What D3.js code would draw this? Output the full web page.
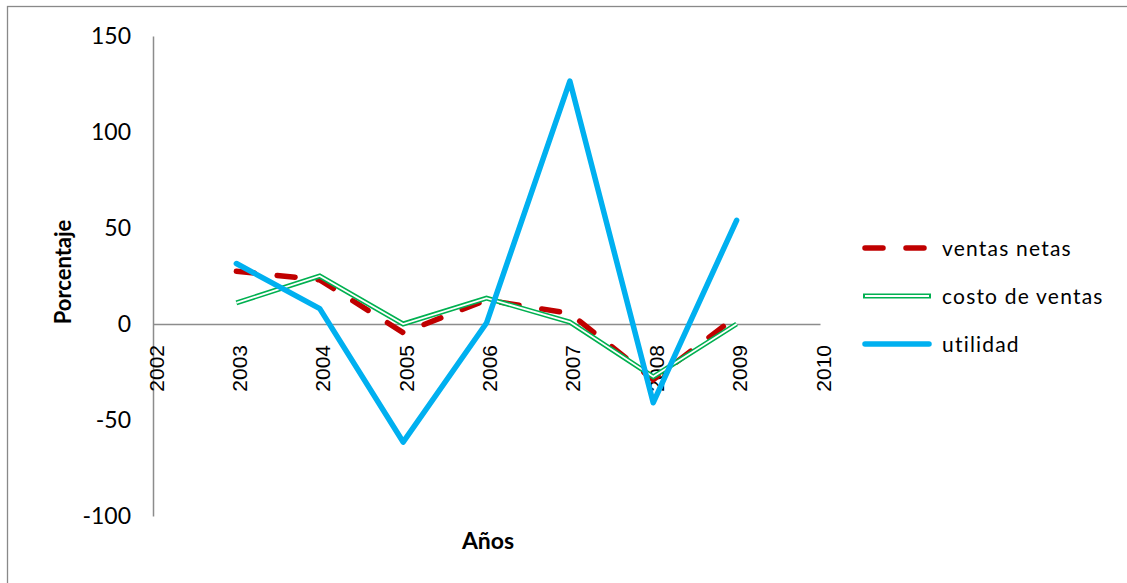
<!DOCTYPE html>
<html><head><meta charset="utf-8">
<script src="https://cdn.jsdelivr.net/npm/d3@7"></script>
<style>body{margin:0;background:#fff}svg{display:block}</style>
</head><body>
<svg id="c" width="1127" height="583"></svg>
<script>
const years = [2003, 2004, 2005, 2006, 2007, 2008, 2009];
const xTicks = [2002, 2003, 2004, 2005, 2006, 2007, 2008, 2009, 2010];
const yTicks = [-100, -50, 0, 50, 100, 150];
const ventasNetas = [27.5, 23, -4.5, 12.5, 5.5, -29, 4];
const costoVentas = [11, 25, 0, 13.5, 1, -27.5, 0];
const utilidad = [31.5, 8, -61.5, 0.5, 126.5, -41, 54];
const seriesNames = ["ventas netas", "costo de ventas", "utilidad"];

const svg = d3.select("#c");
// outer border
svg.append("rect").attr("x", 7.5).attr("y", 6.5).attr("width", 1300).attr("height", 800)
  .attr("fill", "none").attr("stroke", "#898989").attr("stroke-width", 1.3);

const x = d3.scaleLinear().domain([2002, 2010]).range([153, 820]);
const y = d3.scaleLinear().domain([-100, 150]).range([516, 36]);

// y axis
const yAxis = d3.axisLeft(y).tickValues(yTicks).tickSize(0).tickPadding(22).tickFormat(d => String(d));
const gy = svg.append("g").attr("transform", "translate(153,0)").call(yAxis);
gy.select(".domain").attr("stroke", "#8c8c8c").attr("stroke-width", 1.5);
gy.selectAll("text").attr("font-family", "Lato, 'Open Sans', sans-serif").attr("font-size", 23).attr("fill", "#000");

// zero line
const xAxis = d3.axisBottom(x).tickValues(xTicks).tickSize(0).tickFormat(d => String(d));
const gx = svg.append("g").attr("transform", `translate(0,${y(0)})`).call(xAxis);
gx.select(".domain").attr("stroke", "#8c8c8c").attr("stroke-width", 1.5);
gx.selectAll("text")
  .attr("font-family", "'Liberation Sans', Arial, sans-serif").attr("font-size", 21).attr("fill", "#000")
  .attr("text-anchor", "end").attr("dy", null).attr("y", null)
  .attr("transform", `translate(10,${345 - y(0)}) rotate(-90)`);

const line = d3.line().x((d, i) => x(years[i])).y(d => y(d));

// ventas netas
svg.append("path").datum(ventasNetas).attr("d", line).attr("fill", "none")
  .attr("stroke", "#C00000").attr("stroke-width", 5.5).attr("stroke-linecap", "round")
  .attr("stroke-dasharray", "18,23");
// costo de ventas (double line)
svg.append("path").datum(costoVentas).attr("d", line).attr("fill", "none")
  .attr("stroke", "#00B050").attr("stroke-width", 5).attr("stroke-linejoin", "miter");
svg.append("path").datum(costoVentas).attr("d", line).attr("fill", "none")
  .attr("stroke", "#fff").attr("stroke-width", 1.8);
// utilidad
svg.append("path").datum(utilidad).attr("d", line).attr("fill", "none")
  .attr("stroke", "#00B0F0").attr("stroke-width", 5.5).attr("stroke-linejoin", "round").attr("stroke-linecap", "round");

// axis titles
svg.append("text").attr("transform", "translate(71,272) rotate(-90)").attr("text-anchor", "middle")
  .attr("font-family", "Lato, sans-serif").attr("font-weight", "bold").attr("font-size", 22).text("Porcentaje");
svg.append("text").attr("x", 488).attr("y", 549).attr("text-anchor", "middle")
  .attr("font-family", "Lato, sans-serif").attr("font-weight", "bold").attr("font-size", 23).text("Años");

// legend
const legY = [248, 296, 344];
const lg = svg.append("g");
seriesNames.forEach((name, i) => {
  const yy = legY[i];
  if (i === 0) {
    lg.append("line").attr("x1", 865).attr("x2", 929).attr("y1", yy).attr("y2", yy)
      .attr("stroke", "#C00000").attr("stroke-width", 5.5).attr("stroke-linecap", "round").attr("stroke-dasharray", "18,23");
  } else if (i === 1) {
    lg.append("line").attr("x1", 863).attr("x2", 931).attr("y1", yy).attr("y2", yy)
      .attr("stroke", "#00B050").attr("stroke-width", 5);
    lg.append("line").attr("x1", 865).attr("x2", 929).attr("y1", yy).attr("y2", yy)
      .attr("stroke", "#fff").attr("stroke-width", 1.8);
  } else {
    lg.append("line").attr("x1", 865).attr("x2", 929).attr("y1", yy).attr("y2", yy)
      .attr("stroke", "#00B0F0").attr("stroke-width", 5.5).attr("stroke-linecap", "round");
  }
  lg.append("text").attr("x", 942).attr("y", yy + 8)
    .attr("font-family", "Lato, sans-serif").attr("font-size", 21).attr("letter-spacing", 1.2)
    .attr("fill", "#000").text(name);
});
</script>
</body></html>
